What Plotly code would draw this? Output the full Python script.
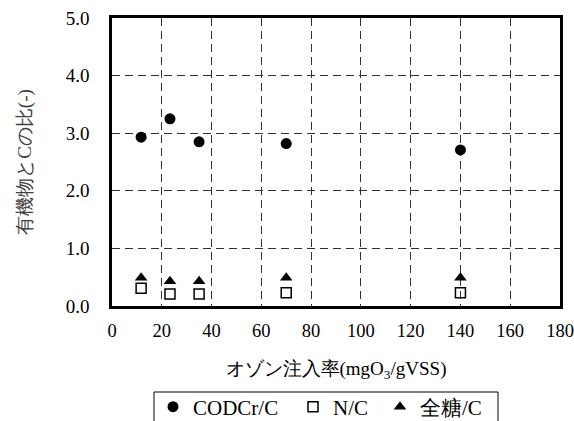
import plotly.graph_objects as go

# Ozone dose (mgO3/gVSS) and ratios of organic matter to C
ozone_dose = [11.7, 23.3, 35, 70, 140]
cod_c = [2.93, 3.25, 2.85, 2.82, 2.71]
n_c = [0.31, 0.21, 0.21, 0.23, 0.23]
sugar_c = [0.49, 0.43, 0.43, 0.49, 0.49]

series_names = ["CODCr/C", "N/C", "全糖/C"]

FONT = "Liberation Serif, Times New Roman, serif"

W, H = 574, 421
ML, MR, MT, MB = 112, 14, 18, 115
PW, PH = W - ML - MR, H - MT - MB

fig = go.Figure()
fig.add_trace(go.Scatter(
    x=ozone_dose, y=cod_c, mode="markers", name=series_names[0], legend="legend",
    marker=dict(symbol="circle", size=11, color="black"),
))
fig.add_trace(go.Scatter(
    x=ozone_dose, y=n_c, mode="markers", name=series_names[1], legend="legend2",
    marker=dict(symbol="square-open", size=10, color="black",
                line=dict(width=1.5, color="black")),
))
fig.add_trace(go.Scatter(
    x=ozone_dose, y=sugar_c, mode="markers", name=series_names[2], legend="legend3",
    marker=dict(symbol="triangle-up", size=11, color="black"),
))

grid = dict(showgrid=True, gridcolor="#333", gridwidth=1, griddash="8px,5px")

fig.update_xaxes(
    range=[0, 180], dtick=20, tick0=0, **grid,
    showline=True, linecolor="black", linewidth=2.5, mirror=True,
    ticks="", zeroline=False, ticklabelstandoff=6, automargin=False,
    ticklabeloverflow="allow",
    tickfont=dict(family=FONT, size=18.5, color="black"),
    title=dict(text="オゾン注入率(mgO<sub>3</sub>/gVSS)", standoff=22,
               font=dict(family=FONT, size=19, color="black")),
)
fig.update_yaxes(
    range=[0, 5], dtick=1, tick0=0, tickformat=".1f", **grid,
    showline=True, linecolor="black", linewidth=2.5, mirror=True,
    ticks="", zeroline=False, ticklabelstandoff=16, automargin=False,
    ticklabeloverflow="allow",
    tickfont=dict(family=FONT, size=19, color="black"),
    title=dict(text="有機物とCの比(-)", standoff=30,
               font=dict(family=FONT, size=19, color="#404040")),
)


def legend_at(left_px):
    # one legend entry, placed by its left edge in page pixels
    return dict(
        orientation="h", xref="container", yref="container",
        x=left_px / W, xanchor="left", y=(H - 407) / H, yanchor="middle",
        font=dict(family=FONT, size=21, color="black"),
        bgcolor="rgba(0,0,0,0)", borderwidth=0, itemwidth=30,
    )


fig.update_layout(
    width=W, height=H,
    margin=dict(l=ML, r=MR, t=MT, b=MB),
    paper_bgcolor="white", plot_bgcolor="white",
    showlegend=True,
    legend=legend_at(153),
    legend2=legend_at(293),
    legend3=legend_at(380),
    shapes=[dict(
        type="rect", xref="paper", yref="paper",
        x0=(154 - ML) / PW, x1=(498 - ML) / PW,
        y0=-0.5, y1=(H - MB - 392) / PH,
        line=dict(color="black", width=1), fillcolor="rgba(0,0,0,0)",
        layer="above",
    )],
)

fig.write_html("out.html")
